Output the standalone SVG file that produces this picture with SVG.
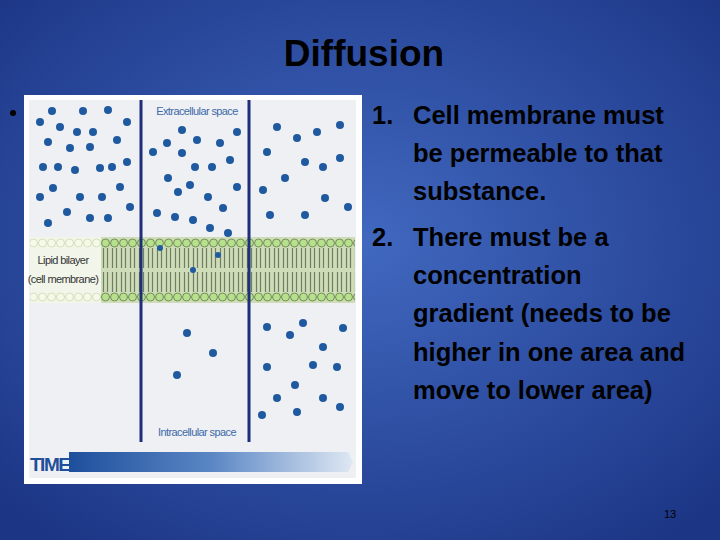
<svg xmlns="http://www.w3.org/2000/svg" width="720" height="540" viewBox="0 0 720 540">
<defs>
<radialGradient id="bg" cx="50%" cy="45%" r="70%">
<stop offset="0" stop-color="#4169c0"/><stop offset="1" stop-color="#1c3585"/>
</radialGradient>
<linearGradient id="tb" x1="0" x2="1"><stop offset="0" stop-color="#1e4f9c"/><stop offset="0.5" stop-color="#5a86c4"/><stop offset="1" stop-color="#dfe8f3"/></linearGradient>
<pattern id="mem" x="101" y="237" width="9" height="66" patternUnits="userSpaceOnUse">
<rect width="9" height="66" fill="#cfdcb8"/>
<path d="M2.5 11V31M6.5 11V31M2.5 35V55M6.5 35V55" stroke="#6f7d62" stroke-width="1.2"/>
<circle cx="4.5" cy="6" r="4" fill="#b6e08c" stroke="#5e7a45" stroke-width="0.8"/>
<circle cx="4.5" cy="60" r="4" fill="#b6e08c" stroke="#5e7a45" stroke-width="0.8"/>
</pattern>
<pattern id="memp" x="101" y="237" width="9" height="66" patternUnits="userSpaceOnUse">
<rect width="9" height="66" fill="#f2f6ea"/>
<circle cx="4.5" cy="6" r="4" fill="#f4f9e8" stroke="#c9d9ae" stroke-width="0.8"/>
<circle cx="4.5" cy="60" r="4" fill="#f4f9e8" stroke="#c9d9ae" stroke-width="0.8"/>
</pattern>
<style>
.d{fill:#1f5aa0}
.t{font-family:"Liberation Sans",Arial,sans-serif;font-weight:bold;fill:#000;font-size:25.5px}
.l{font-family:"Liberation Sans",sans-serif;fill:#3d6aa8;font-size:11px;letter-spacing:-0.6px}
</style>
</defs>
<rect width="720" height="540" fill="url(#bg)"/>
<text x="364" y="66" text-anchor="middle" class="t" style="font-size:37px">Diffusion</text>
<circle cx="13" cy="113" r="3" fill="#000"/>
<g id="figure">
<rect x="24" y="95" width="338" height="389" fill="#ffffff"/>
<rect x="29" y="100" width="327" height="378" fill="#eef0f3"/>
<rect x="30" y="237" width="71" height="66" fill="url(#memp)"/>
<rect x="101" y="237" width="254" height="66" fill="url(#mem)"/>
<text x="63" y="264" text-anchor="middle" class="l" style="fill:#333">Lipid bilayer</text>
<text x="63" y="283" text-anchor="middle" class="l" style="fill:#333">(cell membrane)</text>
<text x="197" y="115" text-anchor="middle" class="l">Extracellular space</text>
<text x="197" y="436" text-anchor="middle" class="l">Intracellular space</text>
<g>
<circle class="d" cx="40" cy="122" r="4"/><circle class="d" cx="52" cy="111" r="4"/><circle class="d" cx="83" cy="111" r="4"/><circle class="d" cx="108" cy="110" r="4"/><circle class="d" cx="127" cy="122" r="4"/><circle class="d" cx="60" cy="127" r="4"/><circle class="d" cx="77" cy="132" r="4"/><circle class="d" cx="93" cy="132" r="4"/><circle class="d" cx="117" cy="140" r="4"/><circle class="d" cx="48" cy="142" r="4"/><circle class="d" cx="70" cy="148" r="4"/><circle class="d" cx="90" cy="147" r="4"/><circle class="d" cx="43" cy="167" r="4"/><circle class="d" cx="58" cy="167" r="4"/><circle class="d" cx="75" cy="170" r="4"/><circle class="d" cx="100" cy="168" r="4"/><circle class="d" cx="112" cy="167" r="4"/><circle class="d" cx="127" cy="162" r="4"/><circle class="d" cx="53" cy="188" r="4"/><circle class="d" cx="80" cy="197" r="4"/><circle class="d" cx="102" cy="197" r="4"/><circle class="d" cx="120" cy="187" r="4"/><circle class="d" cx="40" cy="197" r="4"/><circle class="d" cx="67" cy="212" r="4"/><circle class="d" cx="90" cy="218" r="4"/><circle class="d" cx="108" cy="218" r="4"/><circle class="d" cx="130" cy="207" r="4"/><circle class="d" cx="48" cy="223" r="4"/>
<circle class="d" cx="182" cy="130" r="4"/><circle class="d" cx="153" cy="152" r="4"/><circle class="d" cx="167" cy="143" r="4"/><circle class="d" cx="182" cy="153" r="4"/><circle class="d" cx="197" cy="140" r="4"/><circle class="d" cx="220" cy="143" r="4"/><circle class="d" cx="237" cy="132" r="4"/><circle class="d" cx="230" cy="160" r="4"/><circle class="d" cx="195" cy="167" r="4"/><circle class="d" cx="212" cy="167" r="4"/><circle class="d" cx="168" cy="178" r="4"/><circle class="d" cx="190" cy="185" r="4"/><circle class="d" cx="178" cy="192" r="4"/><circle class="d" cx="208" cy="197" r="4"/><circle class="d" cx="237" cy="187" r="4"/><circle class="d" cx="157" cy="213" r="4"/><circle class="d" cx="175" cy="217" r="4"/><circle class="d" cx="193" cy="220" r="4"/><circle class="d" cx="223" cy="208" r="4"/><circle class="d" cx="210" cy="228" r="4"/><circle class="d" cx="228" cy="233" r="4"/>
<circle class="d" cx="160" cy="248" r="3"/><circle class="d" cx="218" cy="255" r="3"/><circle class="d" cx="193" cy="270" r="3"/>
<circle class="d" cx="187" cy="333" r="4"/><circle class="d" cx="213" cy="353" r="4"/><circle class="d" cx="177" cy="375" r="4"/>
<circle class="d" cx="277" cy="127" r="4"/><circle class="d" cx="297" cy="138" r="4"/><circle class="d" cx="317" cy="132" r="4"/><circle class="d" cx="340" cy="125" r="4"/><circle class="d" cx="267" cy="152" r="4"/><circle class="d" cx="305" cy="162" r="4"/><circle class="d" cx="323" cy="167" r="4"/><circle class="d" cx="340" cy="158" r="4"/><circle class="d" cx="285" cy="178" r="4"/><circle class="d" cx="263" cy="190" r="4"/><circle class="d" cx="325" cy="198" r="4"/><circle class="d" cx="348" cy="207" r="4"/><circle class="d" cx="270" cy="215" r="4"/><circle class="d" cx="305" cy="215" r="4"/>
<circle class="d" cx="267" cy="327" r="4"/><circle class="d" cx="290" cy="335" r="4"/><circle class="d" cx="303" cy="323" r="4"/><circle class="d" cx="343" cy="328" r="4"/><circle class="d" cx="323" cy="347" r="4"/><circle class="d" cx="267" cy="367" r="4"/><circle class="d" cx="313" cy="365" r="4"/><circle class="d" cx="337" cy="367" r="4"/><circle class="d" cx="295" cy="385" r="4"/><circle class="d" cx="277" cy="398" r="4"/><circle class="d" cx="323" cy="398" r="4"/><circle class="d" cx="262" cy="415" r="4"/><circle class="d" cx="297" cy="412" r="4"/><circle class="d" cx="340" cy="407" r="4"/>
</g>
<path d="M141 100V442M249 100V442" stroke="#1d2f7a" stroke-width="3"/>
<path d="M69 452H348L353 462L348 472H69Z" fill="url(#tb)"/>
<text x="30" y="471" class="t" style="fill:#1f4f9a;font-size:19px;letter-spacing:-1.5px">TIME</text>
</g>
<g class="t">
<text x="372" y="124">1.</text><text x="413" y="124">Cell membrane must</text>
<text x="413" y="162">be permeable to that</text>
<text x="413" y="200">substance.</text>
<text x="372" y="246">2.</text><text x="413" y="246">There must be a</text>
<text x="413" y="284">concentration</text>
<text x="413" y="322">gradient (needs to be</text>
<text x="413" y="361">higher in one area and</text>
<text x="413" y="399">move to lower area)</text>
</g>
<text x="670" y="518" text-anchor="middle" style="font-family:'Liberation Sans',sans-serif;font-size:11px;fill:#000">13</text>
</svg>
